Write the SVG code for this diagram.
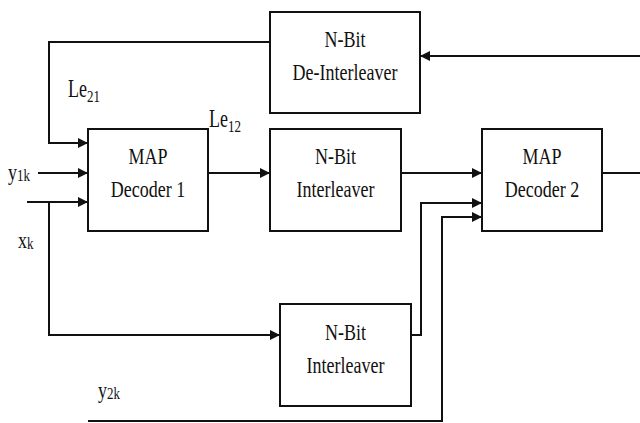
<svg xmlns="http://www.w3.org/2000/svg" width="640" height="423" viewBox="0 0 640 423">
<defs>
<marker id="ah" markerUnits="userSpaceOnUse" markerWidth="11" markerHeight="10" refX="10" refY="5" orient="auto">
<path d="M0,0 L10,5 L0,10 z" fill="#111"/>
</marker>
<style>
.box{fill:#fff;stroke:#111;stroke-width:2}
.ln{fill:none;stroke:#111;stroke-width:2}
.ar{marker-end:url(#ah)}
.t{font-family:"Liberation Serif","Times New Roman",serif;font-size:18px;fill:#111;text-anchor:middle}
.lb{font-family:"Liberation Serif","Times New Roman",serif;font-size:18px;fill:#111}
.sub{font-size:13px}
</style>
</defs>
<rect width="640" height="423" fill="#fff"/>
<g id="connectors">
<polyline class="ln ar" points="270,42 49,42 49,143 88,143"/>
<line class="ln ar" x1="38" y1="173" x2="88" y2="173"/>
<line class="ln ar" x1="27" y1="202" x2="88" y2="202"/>
<polyline class="ln ar" points="49,202 49,335 280,335"/>
<line class="ln ar" x1="208" y1="173" x2="270" y2="173"/>
<line class="ln ar" x1="401" y1="173" x2="482" y2="173"/>
<polyline class="ln ar" points="411,335 421,335 421,203 482,203"/>
<polyline class="ln ar" points="88,421 442,421 442,217 482,217"/>
<line class="ln" x1="602" y1="173" x2="640" y2="173"/>
<line class="ln ar" x1="640" y1="56" x2="420" y2="56"/>
</g>
<g id="deinterleaver">
<rect class="box" x="270" y="12" width="150" height="101"/>
<text class="t" transform="translate(345,47) scale(1,1.3)">N-Bit</text>
<text class="t" transform="translate(345,80) scale(1,1.3)">De-Interleaver</text>
</g>
<g id="decoder1">
<rect class="box" x="88" y="129" width="120" height="102"/>
<text class="t" transform="translate(148,164) scale(1,1.3)">MAP</text>
<text class="t" transform="translate(148,197) scale(1,1.3)">Decoder 1</text>
</g>
<g id="interleaver1">
<rect class="box" x="270" y="129" width="131" height="102"/>
<text class="t" transform="translate(335.5,164) scale(1,1.3)">N-Bit</text>
<text class="t" transform="translate(335.5,197) scale(1,1.3)">Interleaver</text>
</g>
<g id="decoder2">
<rect class="box" x="482" y="129" width="120" height="102"/>
<text class="t" transform="translate(542,164) scale(1,1.3)">MAP</text>
<text class="t" transform="translate(542,197) scale(1,1.3)">Decoder 2</text>
</g>
<g id="interleaver2">
<rect class="box" x="280" y="304" width="131" height="102"/>
<text class="t" transform="translate(345.5,340) scale(1,1.3)">N-Bit</text>
<text class="t" transform="translate(345.5,373) scale(1,1.3)">Interleaver</text>
</g>
<g id="labels">
<text class="lb" transform="translate(68,97) scale(1,1.35)">Le<tspan class="sub" dy="4">21</tspan></text>
<text class="lb" transform="translate(209,127) scale(1,1.35)">Le<tspan class="sub" dy="4">12</tspan></text>
<text class="lb" transform="translate(8,180) scale(1,1.3)">y<tspan class="sub" dy="1">1k</tspan></text>
<text class="lb" transform="translate(18,248) scale(1,1.3)">x<tspan class="sub" dy="1">k</tspan></text>
<text class="lb" transform="translate(98,398) scale(1,1.3)">y<tspan class="sub" dy="1">2k</tspan></text>
</g>
</svg>
